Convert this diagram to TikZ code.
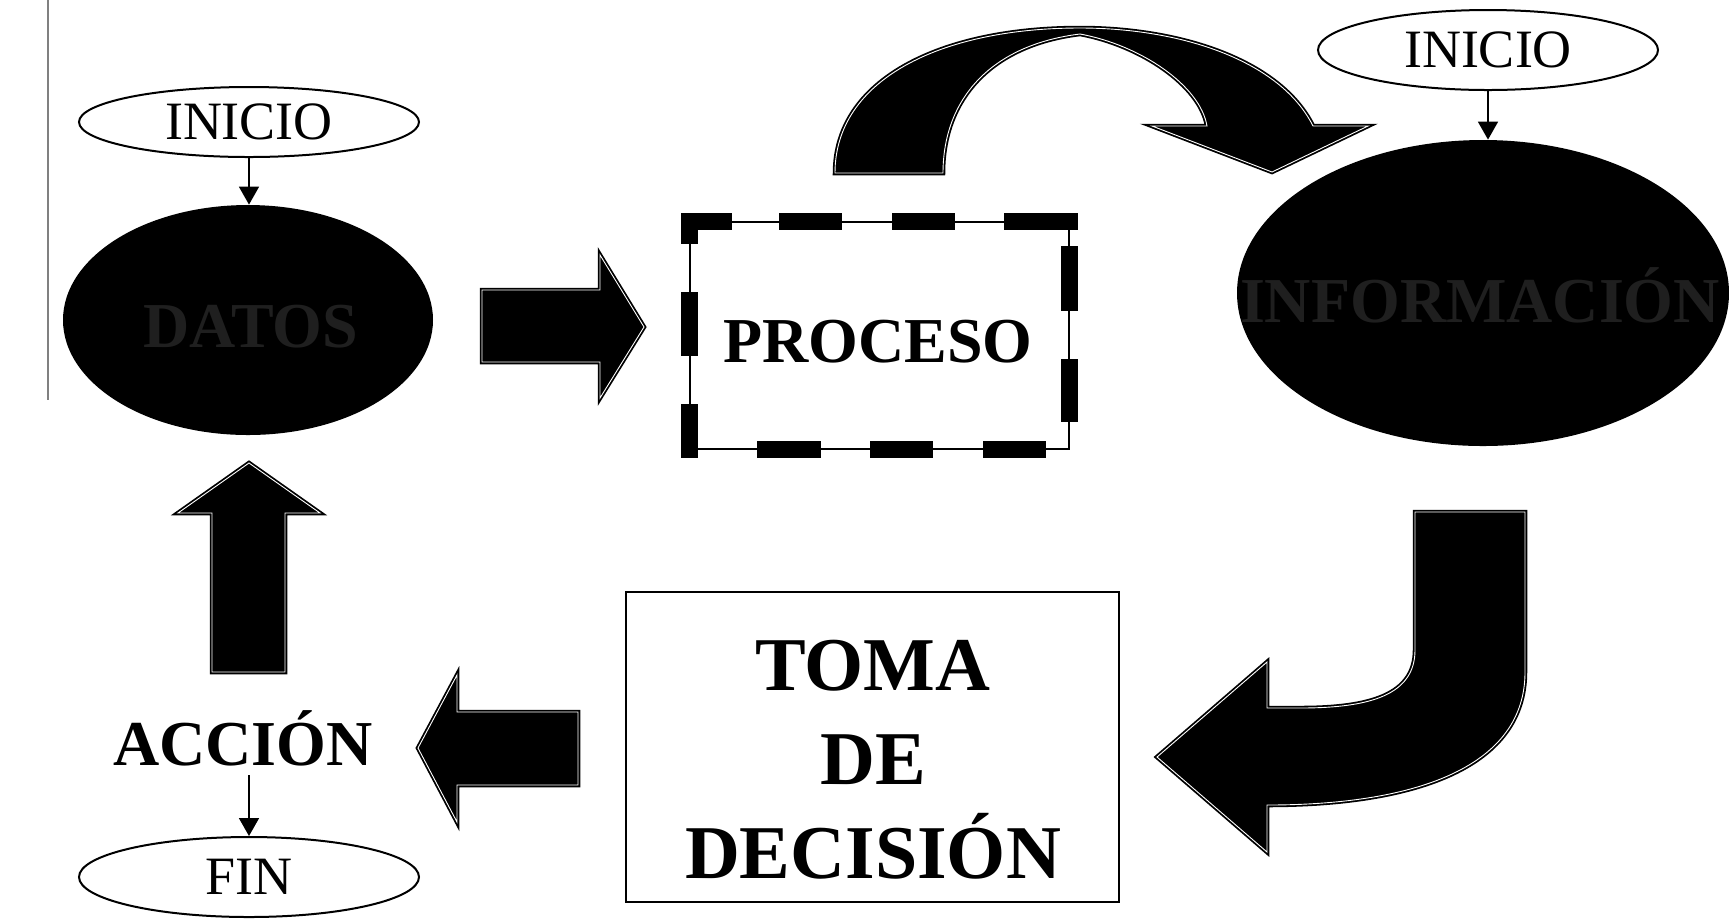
\documentclass[tikz,border=0pt]{standalone}
\usepackage{fontspec}
\setmainfont{Liberation Serif}
\usetikzlibrary{shapes.geometric,arrows.meta}
\begin{document}
\begin{tikzpicture}[x=0.5pt,y=-0.5pt,
  blockarr/.style={fill=black,draw=black,line width=0.9pt,double=white,double distance=0.45pt,line join=miter},
  thinarr/.style={draw=black,line width=0.8pt,-{Triangle[width=10pt,length=9pt]}},
  startell/.style={ellipse,draw=black,line width=1pt,fill=white,minimum width=170pt,inner sep=0pt,font=\fontsize{27}{32}\selectfont},
  darkell/.style={ellipse,fill=black,inner sep=0pt},
  boldtxt/.style={font=\fontsize{32}{38}\selectfont\bfseries,inner sep=0pt},
  darktxt/.style={boldtxt,text=black!88},
  procdashes/.style={draw=black,line width=8.5pt,line cap=butt},
]
\useasboundingbox (0,0) rectangle (1729,918);
% scan margin line
\draw[gray,line width=0.8pt] (48,0) -- (48,400);

% left column
\node[startell,minimum height=35pt] (ini1) at (249,122) {INICIO};
\node[darkell,minimum width=185pt,minimum height=115pt] (datos) at (248,320) {};
\node[darktxt,anchor=base] (datostxt) at (251,347) {DATOS};
\draw[thinarr] (ini1.south) -- (ini1.south |- datos.north);

% proceso box
\node[draw=black,line width=0.7pt,fill=white,minimum width=189.5pt,minimum height=113.5pt,inner sep=0pt] (proc) at (879.5,335.5) {};
\coordinate (pnw) at ([xshift=-4pt]proc.north west);
\coordinate (pne) at ([xshift=4pt]proc.north east);
\coordinate (psw) at ([xshift=-4pt]proc.south west);
\coordinate (pse) at ([xshift=4pt]proc.south east);
\coordinate (pnw2) at ([yshift=4pt]proc.north west);
\coordinate (psw2) at ([yshift=-4pt]proc.south west);
\coordinate (pne2) at ([yshift=4pt]proc.north east);
\coordinate (pse2) at ([yshift=-4pt]proc.south east);
\draw[procdashes,dash pattern=on 25.5pt off 23.5pt on 31.5pt off 25pt on 31.5pt off 24.5pt on 40pt off 10pt] (pnw) -- (pne);
\draw[procdashes,dash pattern=on 0pt off 16.5pt on 32.5pt off 24pt on 31.5pt off 50pt] (pne2) -- (pse2);
\draw[procdashes,dash pattern=on 0pt off 38pt on 32pt off 24.5pt on 31.5pt off 25pt on 31.5pt off 40pt] (psw) -- (pse);
\draw[procdashes,dash pattern=on 15.5pt off 24pt on 32pt off 24pt on 40pt off 10pt] (pnw2) -- (psw2);
\node[boldtxt,anchor=base] (proctxt) at (878,362) {PROCESO};

% right column
\node[startell,minimum height=40pt] (ini2) at (1488,50) {INICIO};
\node[darkell,minimum width=246pt,minimum height=153pt] (info) at (1483,293) {};
\node[darktxt,anchor=base] (infotxt) at (1480,322) {INFORMACIÓN};
\draw[thinarr] (ini2.south) -- (ini2.south |- info.north);

% toma de decision
\node[draw=black,line width=1pt,fill=white,minimum width=246.5pt,minimum height=155pt,inner sep=0pt] (toma) at (872.5,747) {};
\node[font=\fontsize{38}{47}\selectfont\bfseries,align=center,inner sep=0pt] (tomatxt) at (873,760) {TOMA\\DE\\DECISIÓN};

% accion / fin
\node[boldtxt,anchor=base] (accion) at (243,765) {ACCIÓN};
\node[startell,minimum height=40pt] (fin) at (249,877) {FIN};
\coordinate (accbot) at ([yshift=-5pt]accion.base);
\draw[thinarr] (fin.north |- accbot) -- (fin.north);

% block arrows
% datos -> proceso
\path[blockarr] (482,290) -- (600,290) -- (600,255) -- (644,327) -- (600,398) -- (600,362) -- (482,362) -- cycle;
% proceso -> informacion (curved)
\path[blockarr] (835,173) -- (943,173) .. controls (943,100) and (990,45) .. (1080,34)
  .. controls (1140,45) and (1200,85) .. (1207,126) -- (1152,126) -- (1272,172) -- (1368,126) -- (1313,126)
  .. controls (1280,60) and (1180,28) .. (1080,28) .. controls (940,28) and (835,80) .. (835,173) -- cycle;
% informacion -> toma (J arrow)
\path[blockarr] (1415,512) -- (1525,512) -- (1525,672) .. controls (1525,765) and (1420,805) .. (1267,805)
  -- (1267,852) -- (1157,757) -- (1267,662) -- (1267,708) -- (1300,708)
  .. controls (1370,708) and (1415,695) .. (1415,650) -- cycle;
% toma -> accion
\path[blockarr] (578,712) -- (457,712) -- (457,675) -- (418,748) -- (457,822) -- (457,785) -- (578,785) -- cycle;
% accion -> datos
\path[blockarr] (212,672) -- (212,513) -- (178,513) -- (249,463) -- (320,513) -- (285,513) -- (285,672) -- cycle;
\end{tikzpicture}
\end{document}
